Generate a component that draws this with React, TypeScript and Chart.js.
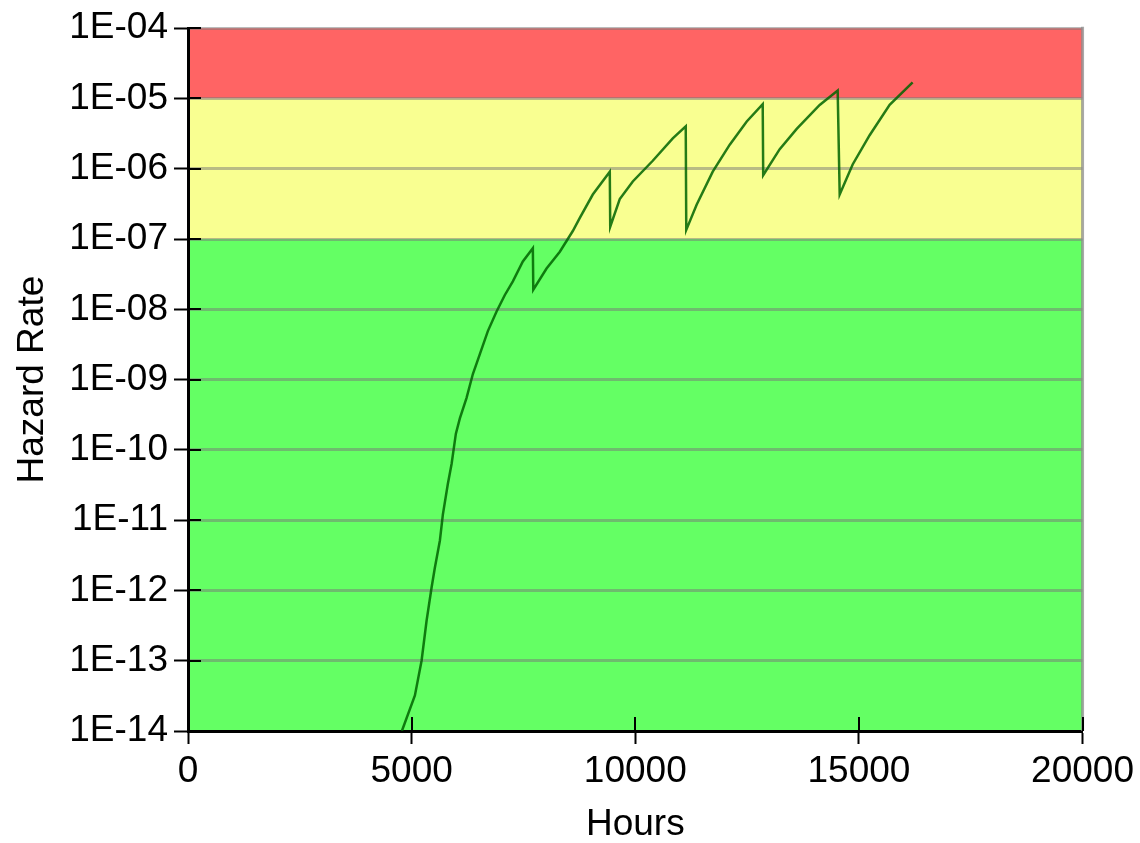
import React, { useEffect, useRef } from "react";
import { Chart, registerables } from "chart.js";

Chart.register(...registerables);

const hours = [
  4782, 5073, 5222, 5334, 5446, 5519, 5631, 5698, 5810, 5893, 5989, 6078, 6228,
  6369, 6525, 6704, 6899, 7084, 7263, 7486, 7710, 7720, 8016, 8313, 8603, 8760,
  9050, 9430, 9440, 9653, 9944, 10391, 10838, 11128, 11140, 11374, 11732, 12112,
  12492, 12849, 12860, 13229, 13609, 14123, 14525, 14570, 14860, 15240, 15687,
  16201,
];
const hazardRate = [
  1.0e-14, 3.2e-14, 1.0e-13, 3.7e-13, 1.1e-12, 2.1e-12, 5.1e-12, 1.2e-11,
  3.3e-11, 6.3e-11, 1.7e-10, 2.8e-10, 5.5e-10, 1.2e-9, 2.3e-9, 4.9e-9, 9.3e-9,
  1.6e-8, 2.5e-8, 4.8e-8, 7.4e-8, 1.9e-8, 3.8e-8, 6.6e-8, 1.3e-7, 2.0e-7,
  4.3e-7, 9.1e-7, 1.5e-7, 3.7e-7, 6.6e-7, 1.3e-6, 2.7e-6, 4.0e-6, 1.35e-7,
  3.1e-7, 9.1e-7, 2.2e-6, 4.7e-6, 8.3e-6, 8.1e-7, 1.9e-6, 3.7e-6, 8.1e-6,
  1.3e-5, 4.3e-7, 1.15e-6, 3.0e-6, 8.1e-6, 1.7e-5,
];
const yExponents = [-14, -13, -12, -11, -10, -9, -8, -7, -6, -5, -4];
const xTicks = [0, 5000, 10000, 15000, 20000];
// zone bands: [upper, lower]
const zoneUpper = [1e-4, 1e-5, 1e-7];
const zoneLower = [1e-5, 1e-7, 1e-14];
const zoneColors = ["#ff6464", "#f9ff91", "#64ff64"];

const FONT = "'Liberation Sans', Arial, sans-serif";

const bandsPlugin = {
  id: "bands",
  beforeDraw(chart: any) {
    const { ctx, chartArea } = chart;
    const y = chart.scales.y;
    ctx.save();
    for (let i = 0; i < zoneUpper.length; i++) {
      const top = y.getPixelForValue(zoneUpper[i]);
      const bot = y.getPixelForValue(zoneLower[i]);
      ctx.fillStyle = zoneColors[i];
      ctx.fillRect(chartArea.left, top, chartArea.right - chartArea.left, bot - top);
    }
    ctx.restore();
  },
  afterDraw(chart: any) {
    const { ctx, chartArea } = chart;
    const x = chart.scales.x;
    const y = chart.scales.y;
    ctx.save();
    ctx.strokeStyle = "rgba(140,140,140,0.75)";
    ctx.lineWidth = 3;
    ctx.beginPath();
    ctx.moveTo(chartArea.right, chartArea.top - 1.5);
    ctx.lineTo(chartArea.right, chartArea.bottom);
    ctx.stroke();
    ctx.strokeStyle = "#000";
    ctx.lineWidth = 2;
    ctx.beginPath();
    for (const e of yExponents) {
      const py = Math.round(y.getPixelForValue(Math.pow(10, e)));
      ctx.moveTo(chartArea.left, py);
      ctx.lineTo(chartArea.left + 13, py);
    }
    for (const v of xTicks) {
      const px = Math.round(x.getPixelForValue(v));
      ctx.moveTo(px, chartArea.bottom);
      ctx.lineTo(px, chartArea.bottom - 14);
    }
    ctx.stroke();
    ctx.restore();
  },
};

export default function App() {
  const ref = useRef<HTMLCanvasElement | null>(null);
  useEffect(() => {
    if (!ref.current) return;
    const points = hours.map((h, i) => ({ x: h, y: hazardRate[i] }));
    const chart = new Chart(ref.current, {
      type: "scatter",
      data: {
        datasets: [
          {
            data: points,
            showLine: true,
            borderColor: "rgba(0,100,0,0.85)",
            borderWidth: 2.5,
            pointRadius: 0,
            tension: 0,
          },
        ],
      },
      plugins: [bandsPlugin],
      options: {
        animation: false,
        responsive: false,
        maintainAspectRatio: false,
        layout: { padding: { top: 26, right: 57, left: 0, bottom: 0 } },
        plugins: { legend: { display: false }, tooltip: { enabled: false } },
        scales: {
          x: {
            type: "linear",
            min: 0,
            max: 20000,
            afterBuildTicks: (s: any) => {
              s.ticks = xTicks.map((v) => ({ value: v }));
            },
            afterFit: (s: any) => {
              s.height = 112;
            },
            grid: {
              drawOnChartArea: false,
              drawTicks: true,
              tickLength: 13,
              tickColor: "#000",
              tickWidth: 2,
            },
            border: { display: true, color: "#000", width: 3 },
            ticks: {
              color: "#000",
              padding: 6,
              maxRotation: 0,
              font: { family: FONT, size: 37 },
              callback: (v: any) => String(v),
            },
            title: {
              display: true,
              text: "Hours",
              color: "#000",
              padding: { top: 0, bottom: 0 },
              font: { family: FONT, size: 37, lineHeight: 1 },
            },
          },
          y: {
            type: "logarithmic",
            min: 1e-14,
            max: 1e-4,
            afterBuildTicks: (s: any) => {
              s.ticks = yExponents.map((e) => ({ value: Math.pow(10, e) }));
            },
            afterFit: (s: any) => {
              s.width = 188;
            },
            grid: {
              color: "rgba(120,120,120,0.5)",
              lineWidth: 3,
              drawTicks: true,
              tickLength: 14,
              tickColor: "#000",
              tickWidth: 2,
            },
            border: { display: true, color: "#000", width: 3 },
            ticks: {
              color: "#000",
              padding: 6,
              autoSkip: false,
              font: { family: FONT, size: 37 },
              callback: (v: any) => {
                const e = Math.round(Math.log10(Number(v)));
                const a = Math.abs(e);
                return "1E" + (e < 0 ? "-" : "+") + (a < 10 ? "0" + a : String(a));
              },
            },
            title: {
              display: true,
              text: "Hazard Rate",
              color: "#000",
              padding: { top: 14, bottom: 0 },
              font: { family: FONT, size: 37, lineHeight: 1 },
            },
          },
        },
      },
    } as any);
    return () => chart.destroy();
  }, []);
  return (
    <div style={{ position: "fixed", left: 0, top: 0, width: 1140, height: 843, background: "#fff" }}>
      <canvas ref={ref} width={1140} height={843} style={{ width: 1140, height: 843, display: "block" }} />
    </div>
  );
}
